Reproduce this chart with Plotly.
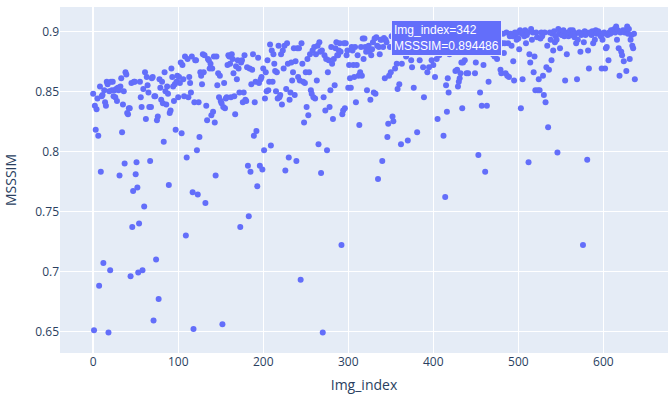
import plotly.graph_objects as go

msssim = [
    # 0-19
    0.848, 0.651, 0.838, 0.818, 0.835, 0.844, 0.813, 0.688, 0.854, 0.783,
    0.846, 0.847, 0.707, 0.851, 0.841, 0.838, 0.858, 0.856, 0.649, 0.850,
    # 20-39
    0.701, 0.858, 0.851, 0.858, 0.846, 0.851, 0.845, 0.852, 0.842, 0.853,
    0.851, 0.780, 0.854, 0.861, 0.816, 0.839, 0.850, 0.790, 0.866, 0.864,
    # 40-59
    0.832, 0.831, 0.836, 0.836, 0.696, 0.857, 0.737, 0.767, 0.858, 0.858,
    0.781, 0.791, 0.770, 0.699, 0.740, 0.858, 0.845, 0.837, 0.701, 0.852,
    # 60-79
    0.754, 0.866, 0.827, 0.862, 0.855, 0.849, 0.837, 0.792, 0.837, 0.861,
    0.862, 0.659, 0.846, 0.846, 0.710, 0.826, 0.829, 0.677, 0.860, 0.853,
    # 80-99
    0.843, 0.858, 0.840, 0.808, 0.866, 0.850, 0.839, 0.854, 0.848, 0.772,
    0.832, 0.834, 0.869, 0.862, 0.854, 0.842, 0.856, 0.818, 0.858, 0.863,
    # 100-119
    0.845, 0.862, 0.857, 0.874, 0.815, 0.872, 0.860, 0.846, 0.879, 0.730,
    0.795, 0.877, 0.845, 0.862, 0.857, 0.849, 0.879, 0.766, 0.652, 0.841,
    # 120-139
    0.876, 0.876, 0.801, 0.764, 0.841, 0.812, 0.866, 0.863, 0.856, 0.881,
    0.866, 0.880, 0.757, 0.838, 0.826, 0.877, 0.876, 0.869, 0.873, 0.830,
    # 140-159
    0.869, 0.833, 0.879, 0.824, 0.780, 0.879, 0.855, 0.865, 0.845, 0.863,
    0.842, 0.840, 0.656, 0.837, 0.857, 0.836, 0.844, 0.845, 0.872, 0.880,
    # 160-179
    0.879, 0.873, 0.845, 0.881, 0.877, 0.865, 0.846, 0.831, 0.871, 0.860,
    0.876, 0.869, 0.849, 0.737, 0.874, 0.876, 0.841, 0.849, 0.880, 0.843,
    # 180-199
    0.842, 0.870, 0.788, 0.746, 0.869, 0.783, 0.856, 0.868, 0.881, 0.813,
    0.841, 0.858, 0.817, 0.771, 0.878, 0.857, 0.788, 0.860, 0.862, 0.785,
    # 200-219
    0.869, 0.801, 0.844, 0.866, 0.850, 0.876, 0.851, 0.858, 0.889, 0.805,
    0.884, 0.858, 0.881, 0.873, 0.867, 0.850, 0.866, 0.844, 0.888, 0.845,
    # 220-239
    0.847, 0.881, 0.839, 0.884, 0.869, 0.888, 0.784, 0.852, 0.890, 0.873,
    0.795, 0.843, 0.849, 0.874, 0.859, 0.866, 0.886, 0.847, 0.875, 0.792,
    # 240-259
    0.886, 0.862, 0.886, 0.859, 0.693, 0.890, 0.873, 0.858, 0.824, 0.857,
    0.866, 0.837, 0.877, 0.830, 0.866, 0.881, 0.851, 0.848, 0.884, 0.845,
    # 260-279
    0.887, 0.844, 0.881, 0.859, 0.888, 0.806, 0.891, 0.883, 0.782, 0.884,
    0.649, 0.845, 0.880, 0.834, 0.877, 0.801, 0.866, 0.876, 0.837, 0.851,
    # 280-299
    0.887, 0.873, 0.827, 0.877, 0.855, 0.886, 0.891, 0.880, 0.880, 0.884,
    0.890, 0.883, 0.722, 0.831, 0.834, 0.890, 0.836, 0.890, 0.880, 0.884,
    # 300-319
    0.853, 0.872, 0.861, 0.853, 0.887, 0.884, 0.872, 0.862, 0.887, 0.841,
    0.872, 0.880, 0.863, 0.822, 0.866, 0.887, 0.863, 0.894, 0.877, 0.894,
    # 320-339
    0.887, 0.883, 0.851, 0.886, 0.888, 0.883, 0.843, 0.880, 0.885, 0.891,
    0.849, 0.894, 0.848, 0.895, 0.888, 0.777, 0.887, 0.881, 0.893, 0.893,
    # 340-359
    0.792, 0.887, 0.894486, 0.861, 0.893, 0.891, 0.812, 0.823, 0.863, 0.887,
    0.866, 0.896, 0.829, 0.825, 0.895, 0.869, 0.896, 0.873, 0.852, 0.895,
    # 360-379
    0.856, 0.893, 0.806, 0.873, 0.896, 0.894, 0.883, 0.895, 0.879, 0.893,
    0.809, 0.895, 0.890, 0.897, 0.876, 0.870, 0.896, 0.853, 0.894, 0.897,
    # 380-399
    0.895, 0.816, 0.893, 0.897, 0.876, 0.894, 0.890, 0.896, 0.870, 0.845,
    0.896, 0.893, 0.897, 0.866, 0.895, 0.870, 0.893, 0.897, 0.876, 0.894,
    # 400-419
    0.872, 0.896, 0.862, 0.898, 0.877, 0.827, 0.895, 0.880, 0.893, 0.890,
    0.897, 0.895, 0.813, 0.894, 0.762, 0.855, 0.833, 0.861, 0.849, 0.881,
    # 420-439
    0.896, 0.887, 0.898, 0.890, 0.894, 0.897, 0.867, 0.893, 0.868, 0.854,
    0.858, 0.861, 0.865, 0.874, 0.836, 0.874, 0.896, 0.876, 0.893, 0.865,
    # 440-459
    0.897, 0.865, 0.895, 0.884, 0.898, 0.890, 0.896, 0.890, 0.893, 0.865,
    0.874, 0.896, 0.899, 0.797, 0.895, 0.849, 0.897, 0.838, 0.898, 0.872,
    # 460-479
    0.895, 0.783, 0.895, 0.838, 0.899, 0.858, 0.888, 0.898, 0.883, 0.891,
    0.881, 0.887, 0.879, 0.899, 0.898, 0.877, 0.897, 0.887, 0.891, 0.868,
    # 480-499
    0.865, 0.890, 0.898, 0.882, 0.890, 0.865, 0.899, 0.863, 0.890, 0.862,
    0.896, 0.898, 0.888, 0.896, 0.875, 0.859, 0.899, 0.897, 0.893, 0.899,
    # 500-519
    0.894, 0.885, 0.901, 0.836, 0.898, 0.860, 0.899, 0.896, 0.901, 0.890,
    0.897, 0.899, 0.791, 0.881, 0.874, 0.902, 0.893, 0.899, 0.866, 0.879,
    # 520-539
    0.851, 0.899, 0.895, 0.851, 0.860, 0.851, 0.894, 0.899, 0.896, 0.863,
    0.847, 0.899, 0.841, 0.870, 0.888, 0.820, 0.868, 0.899, 0.893, 0.876,
    # 540-559
    0.898, 0.884, 0.900, 0.891, 0.896, 0.893, 0.799, 0.902, 0.898, 0.886,
    0.899, 0.897, 0.897, 0.901, 0.896, 0.859, 0.898, 0.881, 0.899, 0.896,
    # 560-579
    0.899, 0.901, 0.898, 0.897, 0.901, 0.899, 0.895, 0.898, 0.890, 0.860,
    0.893, 0.899, 0.899, 0.883, 0.897, 0.898, 0.722, 0.891, 0.900, 0.897,
    # 580-599
    0.899, 0.793, 0.884, 0.869, 0.899, 0.898, 0.897, 0.900, 0.890, 0.899,
    0.893, 0.901, 0.898, 0.899, 0.900, 0.899, 0.898, 0.896, 0.869, 0.893,
    # 600-619
    0.898, 0.899, 0.869, 0.886, 0.887, 0.897, 0.876, 0.899, 0.898, 0.901,
    0.899, 0.901, 0.900, 0.902, 0.899, 0.904, 0.893, 0.901, 0.886, 0.863,
    # 620-637
    0.899, 0.883, 0.880, 0.901, 0.875, 0.899, 0.901, 0.867, 0.904, 0.898,
    0.902, 0.877, 0.893, 0.897, 0.888, 0.886, 0.898, 0.860,
]
img_index = list(range(len(msssim)))

x_ticks = [0, 100, 200, 300, 400, 500, 600]
y_ticks = [0.65, 0.7, 0.75, 0.8, 0.85, 0.9]
y_tick_labels = ["0.65", "0.7", "0.75", "0.8", "0.85", "0.9"]

hover_idx = 342
hover_val = msssim[hover_idx]

fig = go.Figure()
fig.add_trace(go.Scatter(
    x=img_index, y=msssim, mode="markers",
    marker=dict(color="#636efa", size=6),
    hovertemplate="Img_index=%{x}<br>MSSSIM=%{y}<extra></extra>",
))

fig.add_annotation(
    x=hover_idx, y=hover_val, xref="x", yref="y",
    text=f"Img_index={hover_idx}<br>MSSSIM={hover_val:.6f}",
    showarrow=False, xanchor="left", yanchor="middle", xshift=7,
    align="left", bgcolor="#636efa", bordercolor="#e8e8ff", borderwidth=1,
    borderpad=2, font=dict(color="#ffffff", size=12, family="Arial, Liberation Sans, sans-serif"),
)

fig.update_layout(
    width=670, height=394,
    template="plotly",
    margin=dict(l=60, r=2, t=7, b=41),
    showlegend=False,
    font=dict(family="Open Sans, Arial, sans-serif", size=12, color="#2a3f5f"),
)
fig.update_xaxes(
    title_text="Img_index", title_font=dict(size=14), range=[-39, 676],
    tickvals=x_ticks, automargin=False,
)
fig.update_yaxes(
    title_text="MSSSIM", title_font=dict(size=14), range=[0.632, 0.9203],
    tickvals=y_ticks, ticktext=y_tick_labels, automargin=False,
)

fig.write_html(
    "out.html",
    config={"displayModeBar": False},
    post_script="document.body.style.margin='0';",
)
